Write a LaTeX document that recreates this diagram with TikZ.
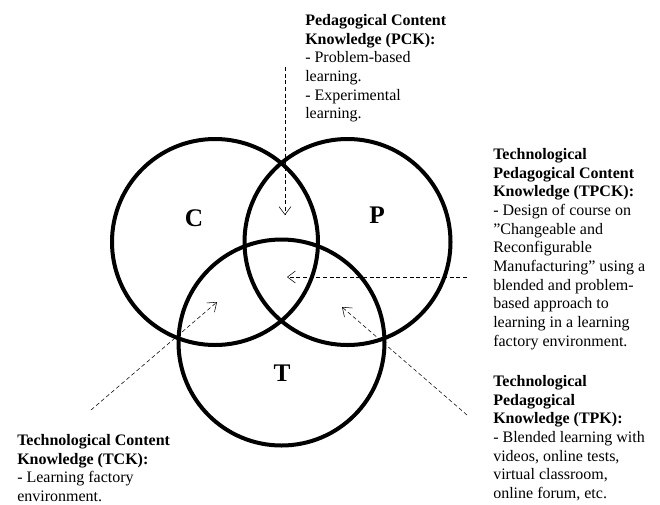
\documentclass[tikz,border=0pt]{standalone}
\usepackage{fontspec}
\setmainfont{Liberation Serif}
\usetikzlibrary{arrows.meta}

\begin{document}
\begin{tikzpicture}[
    x=0.75pt, y=-0.75pt,
    venn/.style={circle, draw, line width=3pt, minimum size=154.5pt, inner sep=0pt},
    letter/.style={font=\fontsize{19}{22}\selectfont\bfseries},
    info/.style={anchor=north west, align=left, inner sep=0pt, font=\fontsize{12}{14}\selectfont},
    pointer/.style={-{Straight Barb[length=6pt, width=9pt]}, thin, dash pattern=on 3pt off 2pt}
  ]
    \useasboundingbox (0,0) rectangle (660,504);

    % the three knowledge domains
    \node[venn] (C) at (215,242) {};
    \node[venn] (P) at (347.5,242) {};
    \node[venn] (T) at (281.5,342.5) {};
    \node[letter] (Clab) at (194,218) {C};
    \node[letter] (Plab) at (377,215) {P};
    \node[letter] (Tlab) at (282,373) {T};

    % descriptions
    \node[info] (pck) at (305,14) {\textbf{Pedagogical Content}\\\textbf{Knowledge (PCK):}\\- Problem-based\\learning.\\- Experimental\\learning.};
    \node[info] (tpck) at (493,148) {\textbf{Technological}\\\textbf{Pedagogical Content}\\\textbf{Knowledge (TPCK):}\\- Design of course on\\”Changeable and\\Reconfigurable\\Manufacturing” using a\\blended and problem-\\based approach to\\learning in a learning\\factory environment.};
    \node[info] (tpk) at (493,375) {\textbf{Technological}\\\textbf{Pedagogical}\\\textbf{Knowledge (TPK):}\\- Blended learning with\\videos, online tests,\\virtual classroom,\\online forum, etc.};
    \node[info] (tck) at (17,434) {\textbf{Technological Content}\\\textbf{Knowledge (TCK):}\\- Learning factory\\environment.};

    % pointers into the overlaps
    \coordinate (pckfrom) at (285,67);
    \coordinate (pckto) at (285,215);
    \coordinate (tpckfrom) at (467,277);
    \coordinate (tpckto) at (287,277);
    \coordinate (tckfrom) at (91,410);
    \coordinate (tckto) at (217,302);
    \coordinate (tpkfrom) at (467,415);
    \coordinate (tpkto) at (342,307);

    \draw[pointer] (pckfrom) -- (pckto);
    \draw[pointer] (tpckfrom) -- (tpckto);
    \draw[pointer] (tckfrom) -- (tckto);
    \draw[pointer] (tpkfrom) -- (tpkto);
  \end{tikzpicture}
\end{document}
